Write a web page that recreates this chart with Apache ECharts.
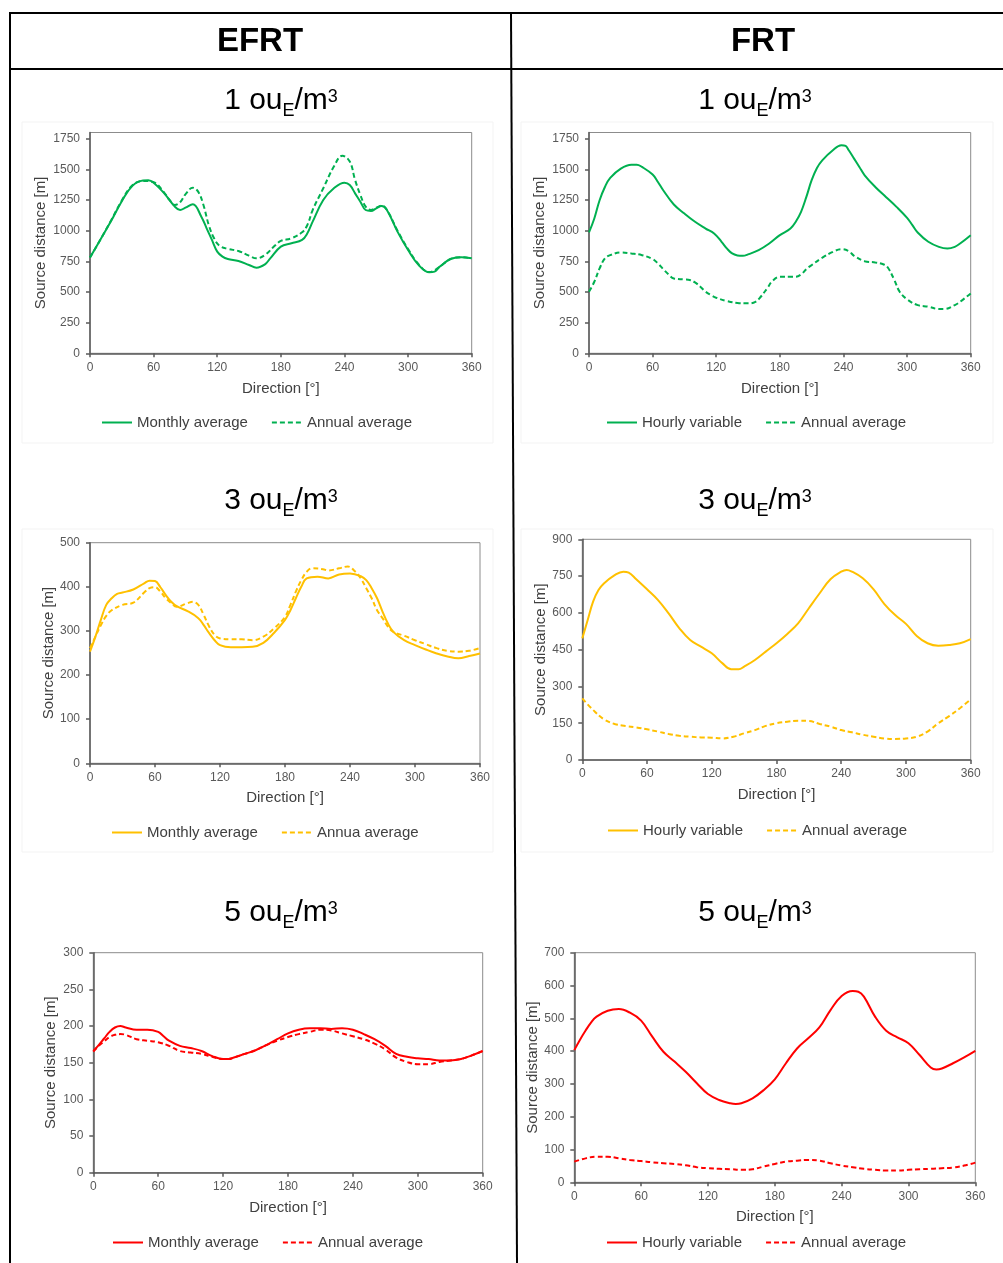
<!DOCTYPE html>
<html><head><meta charset="utf-8">
<script src="https://cdn.jsdelivr.net/npm/echarts@6/dist/echarts.min.js"></script>
<style>html,body{margin:0;padding:0;background:#fff}#c{width:1003px;height:1263px}</style>
</head><body><div id="c"></div>
<script>
// ---------- DATA ----------
const directionTicks = [0, 60, 120, 180, 240, 300, 360];

// EFRT 1 ouE/m3
const efrt1MonthlyDir = [0,10,20,30,40,50,55,60,70,80,85,90,97,105,110,115,120,125,130,140,150,157,165,170,180,190,200,205,210,220,230,240,245,250,255,260,265,270,275,280,290,300,310,320,325,330,340,350,360];
const efrt1Monthly    = [780,930,1080,1240,1365,1408,1410,1390,1304,1196,1168,1187,1215,1114,1019,924,829,788,769,753,720,698,725,774,870,897,924,978,1073,1250,1345,1391,1372,1304,1236,1168,1160,1182,1200,1168,992,842,720,660,666,707,769,783,774];
const efrt1AnnualDir  = [0,10,20,30,40,50,60,70,75,80,85,90,97,102,107,112,117,122,130,140,150,157,165,175,180,190,200,205,210,220,230,238,245,250,255,260,265,270,275,280,290,300,310,320,330,340,350,360];
const efrt1Annual     = [780,930,1085,1245,1370,1405,1394,1310,1250,1209,1231,1296,1350,1318,1209,1046,938,878,851,834,796,774,802,883,916,938,986,1046,1168,1345,1522,1611,1563,1413,1291,1196,1168,1187,1204,1170,1000,850,725,662,707,769,783,774];

// FRT 1 ouE/m3
const frt1HourlyDir = [0,5,10,15,20,30,40,45,50,60,65,70,80,90,100,110,118,125,130,135,140,145,150,160,170,180,190,195,200,205,210,215,220,230,238,242,245,250,255,260,270,280,290,300,305,310,320,330,338,345,350,360];
const frt1Hourly    = [985,1099,1248,1356,1430,1506,1538,1538,1519,1457,1397,1329,1213,1139,1072,1017,977,909,855,814,798,795,806,841,895,963,1017,1072,1153,1275,1411,1511,1573,1655,1696,1690,1655,1587,1519,1451,1356,1275,1194,1104,1045,985,909,868,855,868,895,963];
const frt1AnnualDir = [0,5,10,15,20,30,40,50,60,65,70,75,80,90,95,100,105,110,115,120,130,140,150,157,162,168,173,180,190,195,200,205,210,220,230,238,245,250,260,270,278,282,288,293,300,310,320,330,335,345,350,360];
const frt1Annual    = [502,583,692,773,800,822,814,800,768,733,686,643,610,602,597,578,543,502,475,453,426,410,407,420,461,529,589,624,624,624,643,686,719,779,827,849,833,795,751,741,724,697,597,502,440,393,380,361,361,393,420,488];

// EFRT 3 ouE/m3
const efrt3MonthlyDir = [0,5,10,15,20,25,30,40,50,55,60,65,70,75,80,90,100,105,110,115,120,130,140,150,160,170,180,185,190,195,200,210,220,230,240,250,255,260,265,270,275,280,290,300,310,320,330,340,350,360];
const efrt3Monthly    = [253,287,325,359,374,384,387,394,408,414,413,399,381,366,356,345,329,313,295,279,268,263,263,264,273,296,325,347,374,400,419,423,419,428,430,424,415,397,374,344,317,298,279,268,258,249,242,238,243,249];
const efrt3AnnualDir  = [0,5,10,15,20,30,40,50,55,60,65,70,75,80,90,95,100,105,110,115,120,130,140,150,160,170,180,185,190,195,200,205,215,220,230,238,245,250,255,260,265,270,275,280,290,300,310,320,330,340,350,360];
const efrt3Annual     = [261,287,313,334,347,359,364,387,397,399,389,374,363,355,363,366,359,336,310,291,283,281,281,279,287,306,332,359,389,415,434,442,440,437,442,446,434,419,397,374,347,329,310,298,289,279,270,261,255,253,255,261];

// FRT 3 ouE/m3
const frt3HourlyDir = [0,5,10,15,20,30,38,43,50,60,70,80,90,100,110,120,130,138,145,150,160,170,180,190,200,210,220,230,240,245,250,260,270,280,290,300,310,320,330,340,350,360];
const frt3Hourly    = [496,571,646,693,720,754,768,764,737,696,653,598,537,489,462,435,394,370,370,381,408,442,476,514,557,619,680,737,768,775,768,741,696,636,591,555,506,476,466,469,476,493];
const frt3AnnualDir = [0,10,20,30,40,50,60,70,80,90,100,110,120,130,140,150,160,170,180,190,200,210,220,230,240,250,260,270,280,290,300,310,320,330,340,350,360];
const frt3Annual    = [251,204,166,147,139,133,125,116,106,99,95,92,91,88,95,109,122,139,150,156,160,159,147,136,122,113,103,95,88,86,88,95,116,150,179,211,247];

// EFRT 5 ouE/m3
const efrt5MonthlyDir = [0,5,10,15,20,25,30,40,50,60,65,70,80,90,100,110,120,125,130,140,150,160,170,180,190,200,210,220,230,240,250,260,270,280,290,300,310,320,330,340,350,360];
const efrt5Monthly    = [166,174,183,192,198,200,198,195,195,192,186,180,173,170,166,159,155,155,157,162,167,174,182,190,195,197,197,196,197,195,189,182,173,162,158,156,155,153,153,155,160,166];
const efrt5AnnualDir  = [0,5,10,15,20,25,30,40,50,60,70,80,90,100,110,120,125,130,140,150,160,170,180,190,200,210,220,230,240,250,260,270,280,290,300,310,320,330,340,350,360];
const efrt5Annual     = [165,173,179,185,188,189,188,182,180,178,173,166,164,162,158,155,155,157,162,167,174,180,185,189,192,195,194,190,186,182,176,168,157,151,148,148,151,153,155,160,166];

// FRT 5 ouE/m3
const frt5HourlyDir = [0,5,10,15,20,30,40,50,60,70,80,90,100,110,120,130,140,145,150,160,170,180,190,200,210,220,230,240,250,255,260,270,280,290,300,310,320,325,330,340,350,360];
const frt5Hourly    = [403,434,462,487,505,523,528,517,493,444,398,368,337,302,269,251,241,239,241,256,281,314,363,408,439,472,525,568,583,581,566,505,462,442,424,388,350,344,347,363,381,401];
const frt5AnnualDir = [0,10,20,30,40,50,60,70,80,90,100,110,120,130,140,150,160,170,180,190,200,210,220,230,240,250,260,270,280,290,300,310,320,330,340,350,360];
const frt5Annual    = [63,73,78,78,73,68,65,61,58,56,52,46,43,41,40,38,40,48,56,63,66,68,66,58,51,46,41,38,36,36,38,40,41,43,45,51,60];

const columnTitles = ['EFRT', 'FRT'];
const concentrations = ['1', '3', '5'];
const legendNames = {
  efrt: ['Monthly average', 'Annual average'],
  efrt3: ['Monthly average', 'Annua average'],
  frt: ['Hourly variable', 'Annual average']
};

// ---------- LAYOUT ----------
const FONT = "'Liberation Sans', Arial, sans-serif";
const GREEN = '#00B050', YELLOW = '#FFC000', RED = '#FF0000';

const pair = (d, v) => d.map((x, i) => [x, v[i]]);

const panels = [
  { grid:{left:90, top:132.5, width:381.7, height:220.8}, yMax:1800, yInt:250, hideMax:true, color:GREEN,
    names:legendNames.efrt, s:[pair(efrt1MonthlyDir, efrt1Monthly), pair(efrt1AnnualDir, efrt1Annual)],
    yGap:42, xGap:28, legend:{left:101, top:415} },
  { grid:{left:589, top:132.5, width:381.7, height:220.8}, yMax:1800, yInt:250, hideMax:true, color:GREEN,
    names:legendNames.frt, s:[pair(frt1HourlyDir, frt1Hourly), pair(frt1AnnualDir, frt1Annual)],
    yGap:42, xGap:28, legend:{left:606, top:415} },
  { grid:{left:90, top:542.7, width:390, height:220.6}, yMax:500, yInt:100, color:YELLOW,
    names:legendNames.efrt3, s:[pair(efrt3MonthlyDir, efrt3Monthly), pair(efrt3AnnualDir, efrt3Annual)],
    yGap:34, xGap:27, legend:{left:111, top:825} },
  { grid:{left:582.3, top:539.3, width:388.4, height:220.7}, yMax:900, yInt:150, color:YELLOW,
    names:legendNames.frt, s:[pair(frt3HourlyDir, frt3Hourly), pair(frt3AnnualDir, frt3Annual)],
    yGap:34, xGap:27, legend:{left:607, top:823} },
  { grid:{left:93.3, top:952.7, width:389.4, height:220}, yMax:300, yInt:50, color:RED,
    names:legendNames.efrt, s:[pair(efrt5MonthlyDir, efrt5Monthly), pair(efrt5AnnualDir, efrt5Annual)],
    yGap:35, xGap:28, legend:{left:112, top:1235} },
  { grid:{left:574.3, top:952.7, width:401, height:229.6}, yMax:700, yInt:100, color:RED,
    names:legendNames.frt, s:[pair(frt5HourlyDir, frt5Hourly), pair(frt5AnnualDir, frt5Annual)],
    yGap:33, xGap:27, legend:{left:606, top:1235} }
];

const grids = [], xAxes = [], yAxes = [], series = [], legends = [];
panels.forEach((p, i) => {
  grids.push(Object.assign({show:true, borderColor:'#8c8c8c', borderWidth:1, backgroundColor:'transparent'}, p.grid));
  xAxes.push({
    type:'value', gridIndex:i, min:directionTicks[0], max:directionTicks[directionTicks.length-1], interval:60,
    name:'Direction [°]', nameLocation:'middle', nameGap:p.xGap,
    nameTextStyle:{fontFamily:FONT, fontSize:15, color:'#404040'},
    axisLine:{show:true, onZero:false, lineStyle:{color:'#595959', width:1.5}},
    axisTick:{show:true, inside:false, length:4, lineStyle:{color:'#595959', width:1.5}},
    axisLabel:{fontFamily:FONT, fontSize:12, color:'#595959', margin:8, formatter: v => String(v)},
    splitLine:{show:false}
  });
  yAxes.push({
    type:'value', gridIndex:i, min:0, max:p.yMax, interval:p.yInt,
    name:'Source distance [m]', nameLocation:'middle', nameGap:p.yGap,
    nameTextStyle:{fontFamily:FONT, fontSize:15, color:'#404040'},
    axisLine:{show:true, lineStyle:{color:'#595959', width:1.5}},
    axisTick:{show:true, inside:false, length:4, lineStyle:{color:'#595959', width:1.5}},
    axisLabel:{fontFamily:FONT, fontSize:12, color:'#595959', margin:10, showMaxLabel: p.hideMax ? false : true, formatter: v => String(v)},
    splitLine:{show:false}
  });
  const n0 = 'p' + i + '|' + p.names[0], n1 = 'p' + i + '|' + p.names[1];
  series.push({
    type:'line', name:n0, xAxisIndex:i, yAxisIndex:i, data:p.s[0], smooth:0.4,
    symbol:'none', lineStyle:{color:p.color, width:2, type:'solid'}, itemStyle:{color:p.color}, z:3
  });
  series.push({
    type:'line', name:n1, xAxisIndex:i, yAxisIndex:i, data:p.s[1], smooth:0.4,
    symbol:'none', lineStyle:{color:p.color, width:2, type:[5,3]}, itemStyle:{color:p.color}, z:2
  });
  legends.push({
    data:[n0, n1], left:p.legend.left, top:p.legend.top, orient:'horizontal', padding:0,
    itemWidth:30, itemHeight:14, itemGap:23, selectedMode:false,
    itemStyle:{opacity:0},
    formatter: n => n.split('|')[1],
    textStyle:{fontFamily:FONT, fontSize:15, color:'#404040'}
  });
});

// ---------- TEXT HELPERS ----------
const mctx = document.createElement('canvas').getContext('2d');
function tw(t, size, weight) { mctx.font = (weight || '') + ' ' + size + 'px ' + FONT; return mctx.measureText(t).width; }
function subtitle(cx, base, num) {
  const parts = [
    {t:num + ' ou', s:30, dy:-10.5},
    {t:'E', s:18, dy:-0.3},
    {t:'/m', s:30, dy:-10.5},
    {t:'3', s:18, dy:-14.3}
  ];
  const W = parts.reduce((a, p) => a + tw(p.t, p.s), 0);
  let x = cx - W / 2;
  return parts.map(p => {
    const el = {type:'text', x:x, y:base + p.dy, style:{text:p.t, font:p.s + 'px ' + FONT, fill:'#000', align:'left', verticalAlign:'middle'}};
    x += tw(p.t, p.s);
    return el;
  });
}

const lineStyle = {stroke:'#000', lineWidth:2};
const faint = {stroke:'#f3f3f3', fill:null, lineWidth:1};
const graphics = [
  {type:'line', shape:{x1:10, y1:13, x2:1003, y2:13}, style:lineStyle},
  {type:'line', shape:{x1:10, y1:69, x2:1003, y2:69}, style:lineStyle},
  {type:'line', shape:{x1:10, y1:12, x2:10, y2:1263}, style:lineStyle},
  {type:'line', shape:{x1:511, y1:12, x2:517, y2:1263}, style:lineStyle},
  {type:'rect', shape:{x:22, y:122, width:471, height:321}, style:faint, z:-1},
  {type:'rect', shape:{x:521, y:122, width:472, height:321}, style:faint, z:-1},
  {type:'rect', shape:{x:22, y:529, width:471, height:323}, style:faint, z:-1},
  {type:'rect', shape:{x:521, y:529, width:472, height:323}, style:faint, z:-1},
  {type:'text', x:260, y:42, style:{text:columnTitles[0], font:'bold 33px ' + FONT, fill:'#000', align:'center', verticalAlign:'middle'}},
  {type:'text', x:763, y:42, style:{text:columnTitles[1], font:'bold 33px ' + FONT, fill:'#000', align:'center', verticalAlign:'middle'}}
];
const subBase = [111, 511, 923];
concentrations.forEach((c, r) => {
  graphics.push(...subtitle(281, subBase[r], c));
  graphics.push(...subtitle(755, subBase[r], c));
});

const chart = echarts.init(document.getElementById('c'), null, {renderer:'canvas'});
chart.setOption({
  animation:false,
  backgroundColor:'#fff',
  grid:grids, xAxis:xAxes, yAxis:yAxes, series:series, legend:legends,
  graphic:{elements:graphics}
});
</script></body></html>
